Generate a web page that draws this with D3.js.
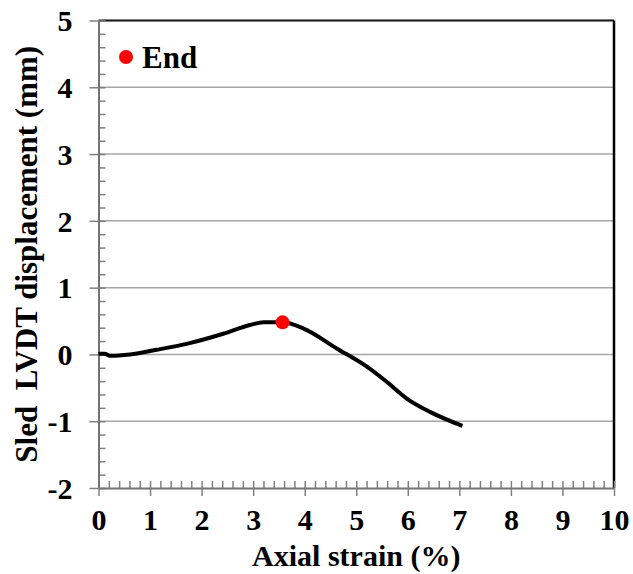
<!DOCTYPE html>
<html><head><meta charset="utf-8">
<script src="https://cdn.jsdelivr.net/npm/d3@7"></script>
<style>body{margin:0;background:#fff}svg{display:block}</style>
</head><body>
<script>
// data
const strain = [0, 0.12, 0.22, 0.61, 1.13, 1.77, 2.42, 2.94, 3.20, 3.46, 3.57, 3.97, 4.62, 5.20, 5.59, 5.98, 6.43, 7.06];
const disp   = [0.01, 0.01, -0.02, 0.00, 0.07, 0.17, 0.31, 0.44, 0.48, 0.48, 0.48, 0.39, 0.09, -0.18, -0.41, -0.66, -0.86, -1.07];
const endPoint = {strain: 3.57, disp: 0.48};
const xTicks = [0,1,2,3,4,5,6,7,8,9,10];
const yTicks = [-2,-1,0,1,2,3,4,5];
const legendLabel = "End";
const xTitle = "Axial strain (%)";
const yTitle = "Sled\u00a0 LVDT displacement (mm)";

const W = 633, H = 574;
const m = {left: 98.5, right: 19, top: 20.5, bottom: 86};
const iw = W - m.left - m.right, ih = H - m.top - m.bottom;
const font = "Liberation Serif";

const svg = d3.select("body").append("svg").attr("width", W).attr("height", H);
const g = svg.append("g").attr("transform", `translate(${m.left},${m.top})`);

const x = d3.scaleLinear().domain([0, 10]).range([0, iw]);
const y = d3.scaleLinear().domain([-2, 5]).range([ih, 0]);

// gridlines
g.append("g").selectAll("line").data(yTicks.filter(d => d > -2)).join("line")
  .attr("x1", 0).attr("x2", iw).attr("y1", d => y(d)).attr("y2", d => y(d))
  .attr("stroke", "#a6a6a6").attr("stroke-width", 1.5);

// top & right border
g.append("line").attr("x1", 0).attr("x2", iw).attr("y1", 0).attr("y2", 0).attr("stroke", "#1a1a1a").attr("stroke-width", 2);
g.append("line").attr("x1", iw).attr("x2", iw).attr("y1", 0).attr("y2", ih).attr("stroke", "#000").attr("stroke-width", 2.5);

// minor ticks (inside)
const yMinor = d3.range(-2, 5.001, 0.2);
const xMinor = d3.range(0, 10.001, 0.2);
g.append("g").call(d3.axisRight(y).tickValues(yMinor).tickSize(7).tickFormat(""))
  .call(a => a.select(".domain").remove())
  .selectAll("line").attr("stroke", "#808080").attr("stroke-width", 1.5);
g.append("g").attr("transform", `translate(0,${ih})`)
  .call(d3.axisTop(x).tickValues(xMinor).tickSize(7).tickFormat(""))
  .call(a => a.select(".domain").remove())
  .selectAll("line").attr("stroke", "#808080").attr("stroke-width", 1.5);

// major axes
const fmt = d => String(d);
const yAxis = g.append("g").call(d3.axisLeft(y).tickValues(yTicks).tickSize(9).tickSizeOuter(0).tickPadding(17).tickFormat(fmt));
const xAxis = g.append("g").attr("transform", `translate(0,${ih})`)
  .call(d3.axisBottom(x).tickValues(xTicks).tickSize(8).tickSizeOuter(0).tickPadding(13).tickFormat(fmt));
[yAxis, xAxis].forEach(a => {
  a.select(".domain").attr("stroke", "#737373").attr("stroke-width", 2);
  a.selectAll(".tick line").attr("stroke", "#808080").attr("stroke-width", 1.5);
  a.selectAll("text").attr("fill", "#000").attr("font-family", font).attr("font-weight", "bold").attr("font-size", 30);
});
yAxis.selectAll("text").attr("dy", "0.34em");
xAxis.selectAll("text").attr("dy", "0.71em");

// curve
const pts = strain.map((s, i) => [s, disp[i]]);
g.append("path").datum(pts)
  .attr("d", d3.line().x(d => x(d[0])).y(d => y(d[1])).curve(d3.curveMonotoneX))
  .attr("fill", "none").attr("stroke", "#000").attr("stroke-width", 4).attr("stroke-linejoin", "round");

// end marker
g.append("circle").attr("cx", x(endPoint.strain)).attr("cy", y(endPoint.disp)).attr("r", 7).attr("fill", "#ff0000");

// legend
const lg = svg.append("g").attr("transform", "translate(126,57)");
lg.append("circle").attr("r", 7).attr("fill", "#ff0000");
lg.append("text").attr("x", 16).attr("y", 0).attr("dy", "0.35em").text(legendLabel)
  .attr("font-family", font).attr("font-weight", "bold").attr("font-size", 31).attr("fill", "#000");

// titles
svg.append("text").attr("x", m.left + iw / 2).attr("y", 566).attr("text-anchor", "middle")
  .attr("font-family", font).attr("font-weight", "bold").attr("font-size", 30).text(xTitle);
svg.append("text").attr("transform", `translate(37,${m.top + ih / 2}) rotate(-90)`).attr("text-anchor", "middle")
  .attr("font-family", font).attr("font-weight", "bold").attr("font-size", 31).text(yTitle);
</script>
</body></html>
